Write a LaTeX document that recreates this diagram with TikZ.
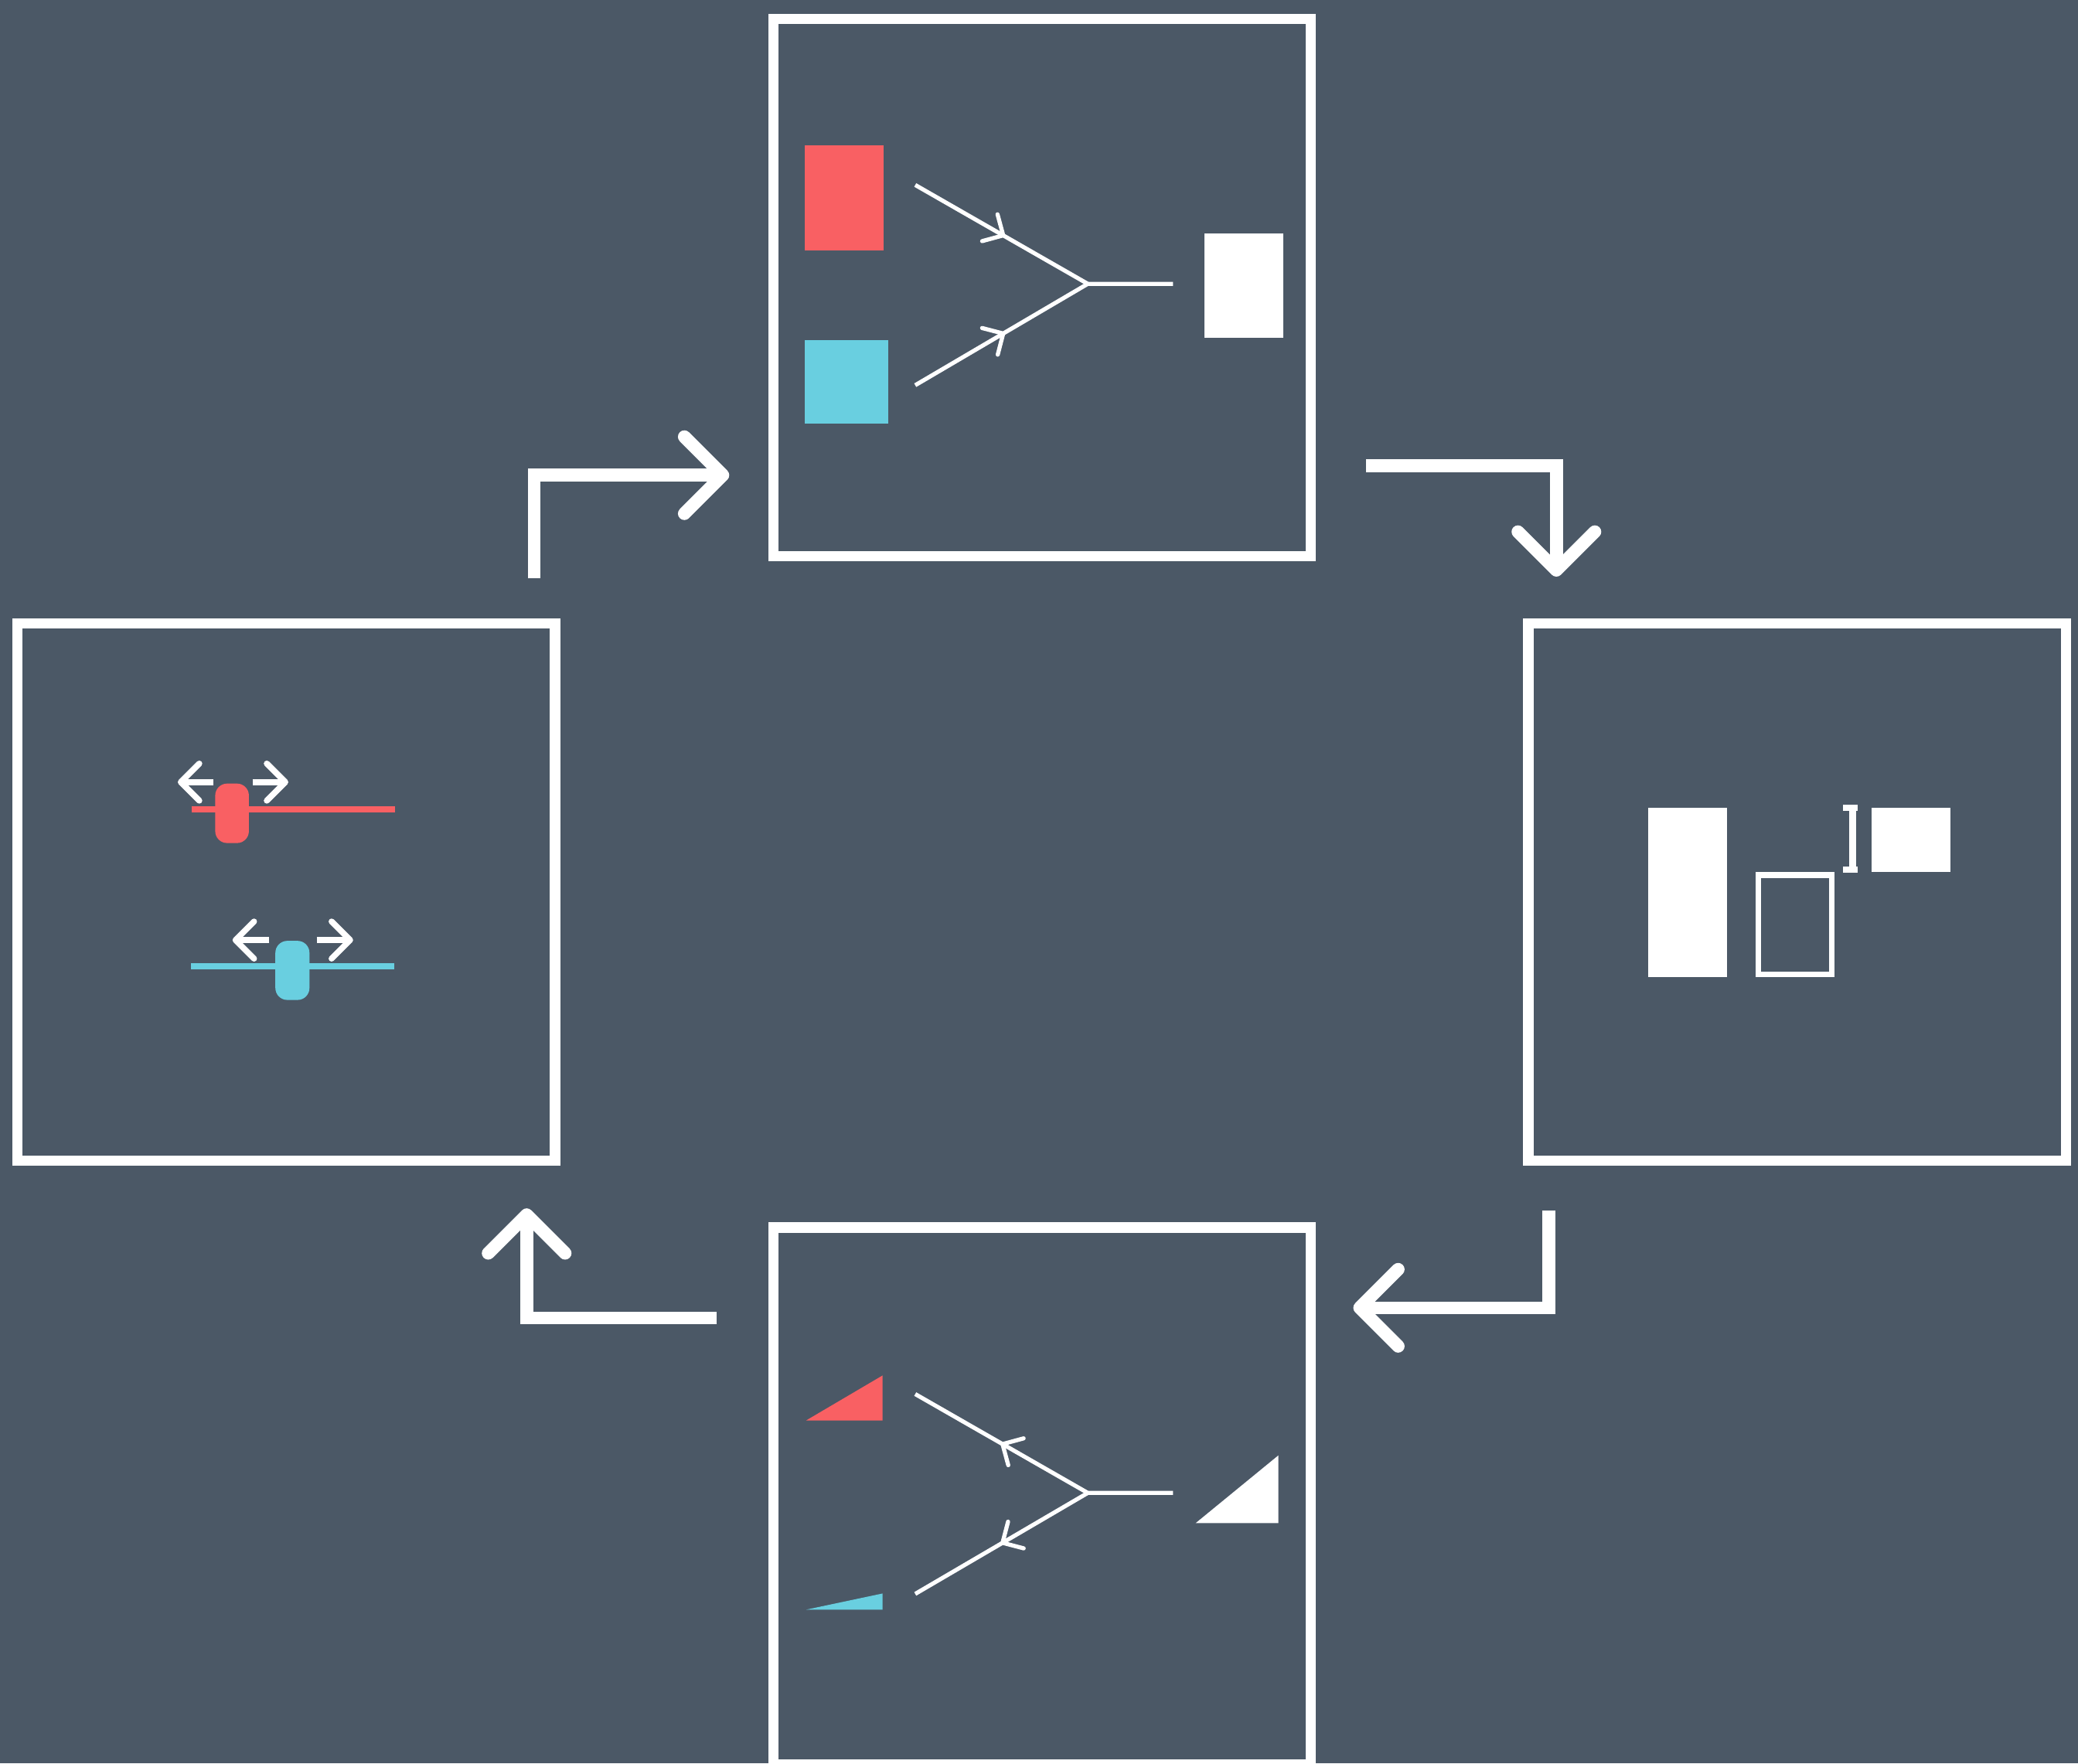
\documentclass[tikz,border=0pt]{standalone}
\usetikzlibrary{calc}
\definecolor{bgc}{RGB}{75,88,102}
\definecolor{redc}{RGB}{249,96,99}
\definecolor{cyanc}{RGB}{105,207,224}
\begin{document}
\begin{tikzpicture}[x=0.5pt,y=-0.5pt,
  panel/.style={draw=white,line width=3.9pt,inner sep=0pt,outer sep=0pt,minimum width=202.85pt,minimum height=202.65pt},
  flow/.style={draw=white,line width=4.85pt,line join=miter},
  flowhead/.style={draw=white,line width=4.85pt,line cap=round,line join=round},
  branch/.style={draw=white,line width=1.55pt},
  barb/.style={draw=white,line width=1.55pt,line cap=round,line join=round},
  rail/.style={line width=2.35pt},
  nudge/.style={draw=white,line width=2.25pt},
  nudgehead/.style={draw=white,line width=2.25pt,line cap=round,line join=round}]
\fill[bgc] (0,0) rectangle (1568,1330.6);
\useasboundingbox (0,0) rectangle (1568,1330.6);

% panels
\node[panel] (ptop) at (786.35,217.0) {};
\node[panel] (pleft) at (216.05,673.05) {};
\node[panel] (pright) at (1356.15,673.15) {};
\node[panel] (pbot) at (786.35,1129.0) {};

% ---------- top panel: merge ----------
\fill[redc] (607.5,109.6) rectangle (666.7,189.1);
\fill[cyanc] (607.5,256.9) rectangle (670.2,319.6);
\fill[white] (908.6,175.9) rectangle (968.1,254.9);
\coordinate (s1) at (690.6,139.6);
\coordinate (j1) at (820.8,214.2);
\coordinate (e1) at (885.1,214.2);
\coordinate (s2) at (690.6,290.7);
\draw[branch] (s1) -- (j1) -- (e1);
\draw[branch] (s2) -- (j1);
\coordinate (t1) at ($(s1)!0.51!(j1)$);
\coordinate (t2) at ($(s2)!0.51!(j1)$);
\draw[barb] ($(t1)!8.25pt!45:(s1)$) -- (t1) -- ($(t1)!8.25pt!-45:(s1)$);
\draw[barb] ($(t2)!8.25pt!45:(s2)$) -- (t2) -- ($(t2)!8.25pt!-45:(s2)$);

% ---------- bottom panel: split ----------
\fill[redc] (608.3,1071.9) -- (665.9,1038.0) -- (665.9,1071.9) -- cycle;
\fill[cyanc] (608.3,1214.7) -- (665.9,1202.5) -- (665.9,1214.7) -- cycle;
\fill[white] (902.2,1149.4) -- (964.6,1098.3) -- (964.6,1149.4) -- cycle;
\coordinate (s3) at (690.6,1052.0);
\coordinate (j2) at (820.8,1126.6);
\coordinate (e2) at (885.1,1126.6);
\coordinate (s4) at (690.6,1202.8);
\draw[branch] (s3) -- (j2) -- (e2);
\draw[branch] (s4) -- (j2);
\coordinate (t3) at ($(s3)!0.506!(j2)$);
\coordinate (t4) at ($(s4)!0.506!(j2)$);
\draw[barb] ($(t3)!8.25pt!45:(j2)$) -- (t3) -- ($(t3)!8.25pt!-45:(j2)$);
\draw[barb] ($(t4)!8.25pt!45:(j2)$) -- (t4) -- ($(t4)!8.25pt!-45:(j2)$);

% ---------- left panel: sliders ----------
\draw[rail,redc] (144.5,610.7) -- (298.2,610.7);
\fill[redc,rounded corners=4.5pt] (162.4,591.3) rectangle (187.8,636.2);
\draw[nudge] (161.1,590.2) -- (136.4,590.2);
\draw[nudgehead] (150.4,576.2) -- (136.4,590.2) -- (150.4,604.2);
\draw[nudge] (190.5,590.2) -- (215.3,590.2);
\draw[nudgehead] (201.3,576.2) -- (215.3,590.2) -- (201.3,604.2);

\draw[rail,cyanc] (144.0,729.0) -- (297.6,729.0);
\fill[cyanc,rounded corners=4.5pt] (207.8,710.0) rectangle (233.5,754.6);
\draw[nudge] (203.2,709.4) -- (177.7,709.4);
\draw[nudgehead] (191.7,695.4) -- (177.7,709.4) -- (191.7,723.4);
\draw[nudge] (239.0,709.4) -- (264.2,709.4);
\draw[nudgehead] (250.2,695.4) -- (264.2,709.4) -- (250.2,723.4);

% ---------- right panel ----------
\fill[white] (1243.5,609.7) rectangle (1303.1,737.5);
\draw[white,line width=2.3pt] (1326.8,660.2) rectangle (1382.2,735.3);
\fill[white] (1412.1,609.7) rectangle (1471.8,657.9);
\fill[white] (1390.7,607.1) rectangle (1401.9,612.1);
\fill[white] (1395.2,612.1) rectangle (1400.5,653.7);
\fill[white] (1390.7,653.7) rectangle (1401.9,658.8);

% ---------- cycle arrows ----------
\coordinate (a1s) at (403.0,436.5);
\coordinate (a1c) at (403.0,358.6);
\coordinate (a1t) at (545.4,358.6);
\draw[flow] (a1s) -- (a1c) -- (a1t);
\draw[flowhead] ($(a1t)+(-29,-29)$) -- (a1t) -- ($(a1t)+(-29,29)$);

\coordinate (a2s) at (1030.9,351.6);
\coordinate (a2c) at (1174.4,351.6);
\coordinate (a2t) at (1174.4,430.3);
\draw[flow] (a2s) -- (a2c) -- (a2t);
\draw[flowhead] ($(a2t)+(-29,-29)$) -- (a2t) -- ($(a2t)+(29,-29)$);

\coordinate (a3s) at (1168.6,913.3);
\coordinate (a3c) at (1168.6,986.9);
\coordinate (a3t) at (1026.0,986.9);
\draw[flow] (a3s) -- (a3c) -- (a3t);
\draw[flowhead] ($(a3t)+(29,-29)$) -- (a3t) -- ($(a3t)+(29,29)$);

\coordinate (a4s) at (540.9,994.6);
\coordinate (a4c) at (397.4,994.6);
\coordinate (a4t) at (397.4,916.7);
\draw[flow] (a4s) -- (a4c) -- (a4t);
\draw[flowhead] ($(a4t)+(-29,29)$) -- (a4t) -- ($(a4t)+(29,29)$);
\end{tikzpicture}
\end{document}
